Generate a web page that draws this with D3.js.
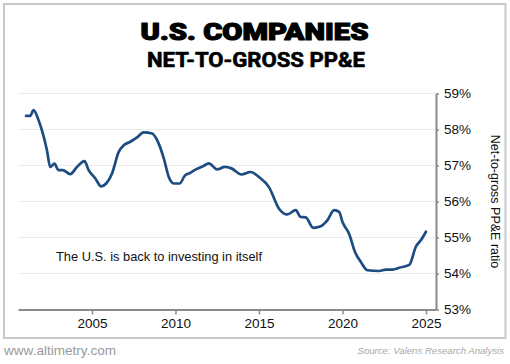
<!DOCTYPE html>
<html><head><meta charset="utf-8">
<script src="https://cdn.jsdelivr.net/npm/d3@7"></script>
<style>
html,body{margin:0;padding:0;background:#fff;}
svg{display:block;}
</style></head>
<body>
<svg id="chart" width="510" height="364"></svg>
<script>
const years = [2001.05, 2001.3, 2001.5, 2001.8, 2002.0, 2002.3, 2002.5, 2002.75, 2003.0, 2003.25, 2003.7, 2004.1, 2004.55, 2004.8, 2005.2, 2005.55, 2005.85, 2006.2, 2006.6, 2006.9, 2007.3, 2007.7, 2008.1, 2008.6, 2008.85, 2009.3, 2009.6, 2009.9, 2010.25, 2010.55, 2010.85, 2011.25, 2011.65, 2012.0, 2012.5, 2012.95, 2013.35, 2013.95, 2014.5, 2015.0, 2015.6, 2016.2, 2016.7, 2017.2, 2017.5, 2017.8, 2018.25, 2018.7, 2019.1, 2019.5, 2019.8, 2020.0, 2020.4, 2020.75, 2021.1, 2021.5, 2022.2, 2022.6, 2023.0, 2023.4, 2024.0, 2024.4, 2024.7, 2025.0];
const ratio = [58.38, 58.38, 58.54, 58.26, 57.98, 57.43, 56.96, 57.05, 56.87, 56.87, 56.76, 56.96, 57.12, 56.87, 56.64, 56.42, 56.5, 56.78, 57.38, 57.56, 57.66, 57.78, 57.92, 57.89, 57.75, 57.2, 56.68, 56.5, 56.5, 56.71, 56.79, 56.9, 56.98, 57.06, 56.89, 56.96, 56.92, 56.75, 56.82, 56.68, 56.4, 55.8, 55.64, 55.76, 55.57, 55.56, 55.27, 55.31, 55.48, 55.76, 55.71, 55.43, 55.1, 54.6, 54.32, 54.09, 54.07, 54.11, 54.11, 54.16, 54.24, 54.75, 54.93, 55.16];
const xTicks = [2005, 2010, 2015, 2020, 2025];
const yTicks = [53, 54, 55, 56, 57, 58, 59];
const title = "U.S. COMPANIES";
const subtitle = "NET-TO-GROSS PP&E";
const yLabel = "Net-to-gross PP&E ratio";
const note = "The U.S. is back to investing in itself";
const siteText = "www.altimetry.com";
const sourceText = "Source: Valens Research Analysis";

const svg = d3.select("#chart");
const data = years.map((y, i) => ({x: y, v: ratio[i]}));

const x = d3.scaleLinear().domain([2000.57, 2025.6]).range([18, 436]);
const y = d3.scaleLinear().domain([53, 59]).range([309.5, 93.5]);

// frame
svg.append("rect").attr("x", 4).attr("y", 4).attr("width", 501.5).attr("height", 334)
  .attr("fill", "none").attr("stroke", "#c8c8c8").attr("stroke-width", 2);

// titles
svg.append("text").attr("x", 254.5).attr("y", 39.5).attr("text-anchor", "middle")
  .attr("font-family", "Roboto, 'Liberation Sans', sans-serif").attr("font-weight", 900)
  .attr("font-size", 23).attr("fill", "#000").attr("stroke", "#000").attr("stroke-width", 1.1)
  .attr("stroke-linejoin", "round")
  .attr("textLength", 228).attr("lengthAdjust", "spacingAndGlyphs").text(title);
svg.append("text").attr("x", 256).attr("y", 66.7).attr("text-anchor", "middle")
  .attr("font-family", "'Liberation Sans Narrow', 'Roboto', sans-serif").attr("font-weight", 700)
  .attr("font-size", 20.5).attr("fill", "#000").attr("stroke", "#000").attr("stroke-width", 0.6)
  .attr("stroke-linejoin", "round")
  .attr("textLength", 218).attr("lengthAdjust", "spacingAndGlyphs").text(subtitle);

// gridlines
svg.append("g").selectAll("line").data(yTicks.filter(d => d > 53)).join("line")
  .attr("x1", 18).attr("x2", 436)
  .attr("y1", d => y(d)).attr("y2", d => y(d))
  .attr("stroke", "#ececec").attr("stroke-width", 1);

// x axis
const xAxis = svg.append("g").attr("transform", `translate(0,${y(53)})`)
  .call(d3.axisBottom(x).tickValues(xTicks).tickFormat(d3.format("d")).tickSize(5).tickSizeOuter(0));
xAxis.select(".domain").attr("stroke", "#8a8a8a").attr("stroke-width", 2);
xAxis.selectAll(".tick line").attr("stroke", "#8a8a8a").attr("stroke-width", 1.5);
xAxis.selectAll(".tick text").attr("font-family", "'Liberation Sans', Arial, sans-serif")
  .attr("font-size", 13.5).attr("fill", "#111").attr("dy", "0.85em").attr("y", 7);

// y axis (right)
const yAxis = svg.append("g").attr("transform", `translate(436,0)`)
  .call(d3.axisRight(y).tickValues(yTicks).tickFormat(d => d + "%").tickSize(3).tickSizeOuter(0));
yAxis.select(".domain").attr("stroke", "#8a8a8a").attr("stroke-width", 2);
yAxis.selectAll(".tick line").attr("stroke", "#8a8a8a").attr("stroke-width", 1.5);
yAxis.selectAll(".tick text").attr("font-family", "'Liberation Sans', Arial, sans-serif")
  .attr("font-size", 13.5).attr("fill", "#111").attr("x", 8);

// y label
svg.append("text").attr("transform", `translate(491,${y(56)}) rotate(90)`)
  .attr("text-anchor", "middle").attr("font-family", "'Liberation Sans', Arial, sans-serif")
  .attr("font-size", 12.5).attr("fill", "#111").text(yLabel);

// line
svg.append("path").datum(data)
  .attr("fill", "none").attr("stroke", "#1c4c80").attr("stroke-width", 2.7)
  .attr("stroke-linejoin", "round").attr("stroke-linecap", "round")
  .attr("d", d3.line().x(d => x(d.x)).y(d => y(d.v)).curve(d3.curveMonotoneX));

// annotation
svg.append("text").attr("x", 56).attr("y", 261)
  .attr("font-family", "'Liberation Sans Narrow', 'Liberation Sans', sans-serif")
  .attr("font-size", 13.5).attr("fill", "#111")
  .attr("textLength", 206).attr("lengthAdjust", "spacingAndGlyphs").text(note);

// footer
svg.append("text").attr("x", 4).attr("y", 355)
  .attr("font-family", "'Liberation Sans', Arial, sans-serif")
  .attr("font-size", 13.5).attr("fill", "#9a9a9a")
  .attr("textLength", 112).attr("lengthAdjust", "spacingAndGlyphs").text(siteText);
svg.append("text").attr("x", 504).attr("y", 354).attr("text-anchor", "end")
  .attr("font-family", "'Liberation Sans', Arial, sans-serif").attr("font-style", "italic")
  .attr("font-size", 9.6).attr("fill", "#a8a8a8").text(sourceText);
</script>
</body></html>
